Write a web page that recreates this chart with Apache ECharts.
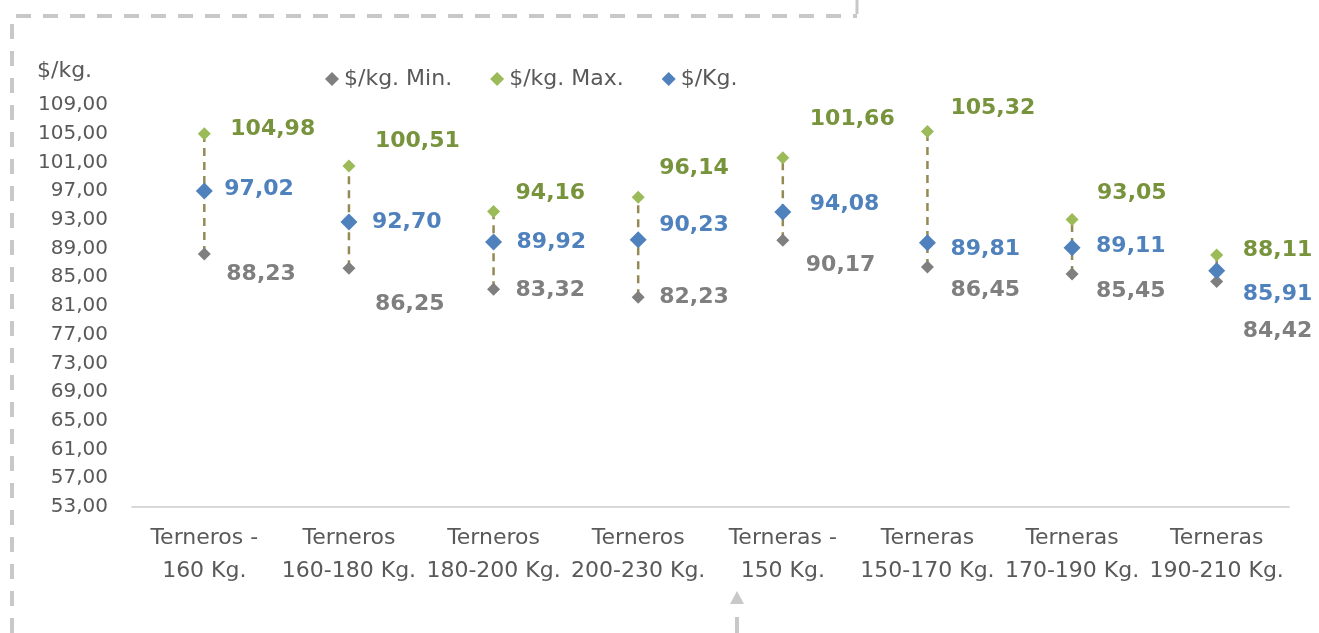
<!DOCTYPE html>
<html>
<head>
<meta charset="utf-8">
<script src="https://cdn.jsdelivr.net/npm/echarts@6/dist/echarts.min.js"></script>
<style>
  html, body { margin: 0; padding: 0; background: #fff; }
  #chart { width: 1319px; height: 633px; }
</style>
</head>
<body>
<div id="chart"></div>
<script>
var categorias = ['Terneros -\n160 Kg.', 'Terneros\n160-180 Kg.', 'Terneros\n180-200 Kg.', 'Terneros\n200-230 Kg.',
                  'Terneras -\n150 Kg.', 'Terneras\n150-170 Kg.', 'Terneras\n170-190 Kg.', 'Terneras\n190-210 Kg.'];
var precioMin = [88.23, 86.25, 83.32, 82.23, 90.17, 86.45, 85.45, 84.42];
var precioMax = [104.98, 100.51, 94.16, 96.14, 101.66, 105.32, 93.05, 88.11];
var precio = [97.02, 92.70, 89.92, 90.23, 94.08, 89.81, 89.11, 85.91];

// label offsets (dx, dy) from the marker, as placed in the original
var offMax = [[26, -5], [26, -25], [22, -18], [21, -29], [27, -38], [23, -23], [25, -26], [26, -5]];
var offPrecio = [[20, -2], [23, 0], [23, 0], [21, -14], [27, -8], [23, 7], [24, -2], [26, 24]];
var offMin = [[22, 20], [26, 36], [22, 1], [21, 0], [23, 25], [23, 23], [24, 17], [26, 50]];

function coma(v) { return v.toFixed(2).replace('.', ','); }

function puntos(valores, offsets) {
    var out = [];
    for (var i = 0; i < valores.length; i++) {
        out.push({
            value: valores[i],
            label: { offset: offsets[i] }
        });
    }
    return out;
}

var rangos = [];
for (var i = 0; i < categorias.length; i++) {
    rangos.push([i, precioMin[i], precioMax[i]]);
}

var fuente = 'DejaVu Sans';

function etiqueta(color) {
    return {
        show: true,
        position: 'inside',
        align: 'left',
        verticalAlign: 'middle',
        fontFamily: fuente,
        fontSize: 22,
        fontWeight: 'bold',
        color: color,
        formatter: function (p) { return coma(p.value); }
    };
}

var chart = echarts.init(document.getElementById('chart'));

var option = {
    animation: false,
    grid: { left: 132, right: 30, top: 105, bottom: 126 },
    legend: {
        data: ['$/kg. Min.', '$/kg. Max.', '$/Kg.'],
        left: 320,
        top: 63,
        icon: 'diamond',
        itemWidth: 14,
        itemHeight: 14,
        itemGap: 38,
        textStyle: { fontFamily: fuente, fontSize: 22, color: '#595959' }
    },
    xAxis: {
        type: 'category',
        data: categorias,
        axisLine: { lineStyle: { color: '#d9d9d9', width: 2 } },
        axisTick: { show: false },
        axisLabel: {
            interval: 0,
            margin: 15,
            fontFamily: fuente,
            fontSize: 22,
            lineHeight: 33,
            color: '#595959'
        }
    },
    yAxis: {
        type: 'value',
        min: 53,
        max: 109,
        interval: 4,
        splitLine: { show: false },
        axisLine: { show: false },
        axisTick: { show: false },
        axisLabel: {
            margin: 24,
            fontFamily: fuente,
            fontSize: 20,
            color: '#595959',
            formatter: function (v) { return coma(v); }
        }
    },
    graphic: [
        { type: 'text', left: 37, top: 60, style: { text: '$/kg.', font: '22px "DejaVu Sans"', fill: '#595959' } },
        { type: 'polyline', shape: { points: [[12, 633], [12, 16], [857, 16]] },
          style: { stroke: '#c8c8c8', lineWidth: 4, fill: null, lineDash: [15, 12] } },
        { type: 'line', shape: { x1: 857, y1: 0, x2: 857, y2: 14 }, style: { stroke: '#c8c8c8', lineWidth: 3 } },
        { type: 'polygon', shape: { points: [[737, 591], [730, 604], [744, 604]] }, style: { fill: '#c8c8c8' } },
        { type: 'line', shape: { x1: 737, y1: 617, x2: 737, y2: 633 }, style: { stroke: '#c8c8c8', lineWidth: 4 } }
    ],
    series: [
        {
            type: 'custom',
            name: 'rango',
            silent: true,
            z: 1,
            data: rangos,
            renderItem: function (params, api) {
                var a = api.coord([api.value(0), api.value(1)]);
                var b = api.coord([api.value(0), api.value(2)]);
                return {
                    type: 'line',
                    shape: { x1: a[0], y1: a[1], x2: b[0], y2: b[1] },
                    style: { stroke: '#948a54', lineWidth: 2.5, lineDash: [8, 6] }
                };
            }
        },
        {
            name: '$/kg. Min.',
            type: 'scatter',
            symbol: 'diamond',
            symbolSize: 13,
            z: 3,
            itemStyle: { color: '#7f7f7f', opacity: 1 },
            label: etiqueta('#7f7f7f'),
            data: puntos(precioMin, offMin)
        },
        {
            name: '$/kg. Max.',
            type: 'scatter',
            symbol: 'diamond',
            symbolSize: 13,
            z: 3,
            itemStyle: { color: '#9bbb59', opacity: 1 },
            label: etiqueta('#77933c'),
            data: puntos(precioMax, offMax)
        },
        {
            name: '$/Kg.',
            type: 'scatter',
            symbol: 'diamond',
            symbolSize: 17,
            z: 4,
            itemStyle: { color: '#4f81bd', opacity: 1 },
            label: etiqueta('#4f81bd'),
            data: puntos(precio, offPrecio)
        }
    ]
};

chart.setOption(option);
</script>
</body>
</html>
